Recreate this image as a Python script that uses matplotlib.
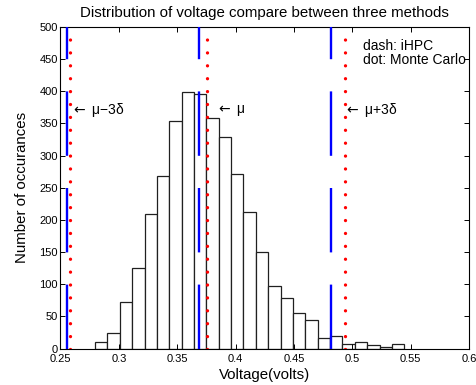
import numpy as np
import matplotlib
matplotlib.use("Agg")
import matplotlib.pyplot as plt

plt.rcParams['font.family'] = ['Liberation Sans', 'DejaVu Sans']
plt.rcParams['lines.scale_dashes'] = False

# histogram of voltages (25 bins)
bin_start = 0.2796
bin_width = 0.0106
counts = [10, 24, 72, 125, 209, 268, 354, 398, 395, 358, 329, 272, 213,
          150, 97, 78, 56, 45, 16, 19, 7, 10, 5, 3, 8]

# mean / sigma of each method
ihpc_mu, ihpc_sigma = 0.3687, 0.03777
mc_mu, mc_sigma = 0.3758, 0.0393

# annotation labels and where they sit
ann_text = [r"$\leftarrow$ \u03bc\u22123\u03b4", r"$\leftarrow$ \u03bc",
            r"$\leftarrow$ \u03bc+3\u03b4"]
ann_x = [0.2592, 0.3832, 0.4925]
ann_y = 370

edges = bin_start + bin_width * np.arange(len(counts) + 1)

fig = plt.figure(figsize=(4.77, 3.85), dpi=100)
ax = fig.add_axes([0.1268, 0.0943, 0.8564, 0.8363])

ax.bar(edges[:-1], counts, width=bin_width, align='edge',
       facecolor='white', edgecolor='#202020', lw=0.9, zorder=1)

# iHPC: dashed blue, Monte Carlo: dotted red
ax_h = 322 * 0.72  # axes height in points
for xv in [ihpc_mu - 3 * ihpc_sigma, ihpc_mu, ihpc_mu + 3 * ihpc_sigma]:
    ax.plot([xv, xv], [0, 500], color='#0000ff', lw=1.7,
            dashes=(ax_h * 100 / 500, ax_h * 50 / 500), zorder=3)
for xv in [mc_mu - 3 * mc_sigma, mc_mu, mc_mu + 3 * mc_sigma]:
    ax.plot([xv, xv], [0, 490], color='#ff0000', lw=2.4,
            dashes=(0.01, ax_h * 20 / 500), dash_capstyle='round', zorder=3)

for t, xv in zip(ann_text, ann_x):
    ax.text(xv, ann_y, t.encode().decode('unicode_escape'), fontsize=10,
            ha='left', va='center', zorder=4)

ax.text(0.509, 459, "dash: iHPC\ndot: Monte Carlo", fontsize=10,
        ha='left', va='center', linespacing=0.95, zorder=4)

ax.set_xlim(0.25, 0.6)
ax.set_ylim(0, 500)
ax.set_xticks(np.arange(0.25, 0.601, 0.05))
ax.set_xticklabels(["0.25", "0.3", "0.35", "0.4", "0.45", "0.5", "0.55", "0.6"])
ax.set_yticks(np.arange(0, 501, 50))
ax.tick_params(direction='in', length=3.5, width=0.7, top=True, right=True,
               labelsize=8, colors='black')
ax.tick_params(axis='x', pad=4)
ax.tick_params(axis='y', pad=2)
for s in ax.spines.values():
    s.set_linewidth(0.8)

ax.set_title("Distribution of voltage compare between three methods",
             fontsize=10.8, pad=7)
ax.set_xlabel("Voltage(volts)", fontsize=10.8)
ax.set_ylabel("Number of occurances", fontsize=10.8)
ax.xaxis.set_label_coords(0.5, -0.06)
ax.yaxis.set_label_coords(-0.076, 0.5)

fig.savefig("out.png", dpi=100)
